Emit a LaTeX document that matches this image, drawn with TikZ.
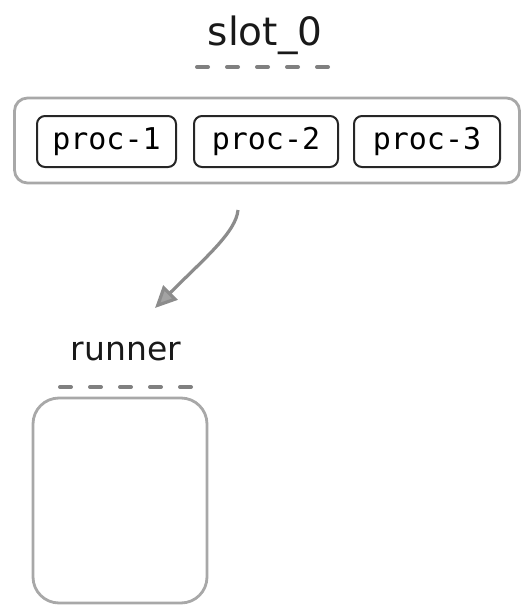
\documentclass[tikz,border=0pt]{standalone}
\usepackage{fontspec}
\setmainfont{DejaVu Sans}
\newfontfamily\monofont{DejaVu Sans Mono}
\usetikzlibrary{arrows.meta}
\definecolor{boxgray}{HTML}{A8A8A8}
\definecolor{dashgray}{HTML}{808080}
\definecolor{arrowgray}{HTML}{8C8C8C}
\tikzset{
  handlabel/.style={inner sep=0pt, text=black!90},
  dashline/.style={draw=dashgray, line width=4pt, line cap=round, dash pattern=on 11pt off 19pt},
  groupbox/.style={draw=boxgray, line width=2.8pt, rounded corners=13pt},
  procbox/.style={draw=black!85, line width=2pt, rounded corners=8pt, inner sep=0pt,
     minimum height=51pt, font=\monofont\fontsize{30}{32}\selectfont},
  flowarrow/.style={draw=arrowgray, line width=3.2pt,
     -{Triangle[length=22pt,width=20pt,fill=arrowgray!80]}},
}
\begin{document}
\begin{tikzpicture}[x=1pt,y=-1pt]
\useasboundingbox (0,0) rectangle (521,605);
% slot label
\node[handlabel, font=\fontsize{39}{42}\selectfont] (slot) at (265,35) {slot\_0};
\coordinate (sd1) at (197,67);
\coordinate (sd2) at (332,67);
\draw[dashline] (sd1) -- (sd2);
% outer group
\node[groupbox, minimum width=505pt, minimum height=85pt] (group) at (267,140.5) {};
% processes
\node[procbox, minimum width=139pt] (p1) at (106.5,141.5) {proc-1};
\node[procbox, minimum width=144pt] (p2) at (266,141.5) {proc-2};
\node[procbox, minimum width=146pt] (p3) at (427,141.5) {proc-3};
% arrow
\coordinate (astart) at (238,210);
\coordinate (aend) at (155,308);
\draw[flowarrow] (astart) .. controls (236,232) and (205,258) .. (aend);
% runner label
\node[handlabel, font=\fontsize{33}{36}\selectfont] (runner) at (126,351) {runner};
\coordinate (rd1) at (60,387);
\coordinate (rd2) at (197,387);
\draw[dashline] (rd1) -- (rd2);
% runner box
\node[groupbox, rounded corners=26pt, minimum width=174pt, minimum height=205pt] (rbox) at (120,500.5) {};
\end{tikzpicture}
\end{document}
